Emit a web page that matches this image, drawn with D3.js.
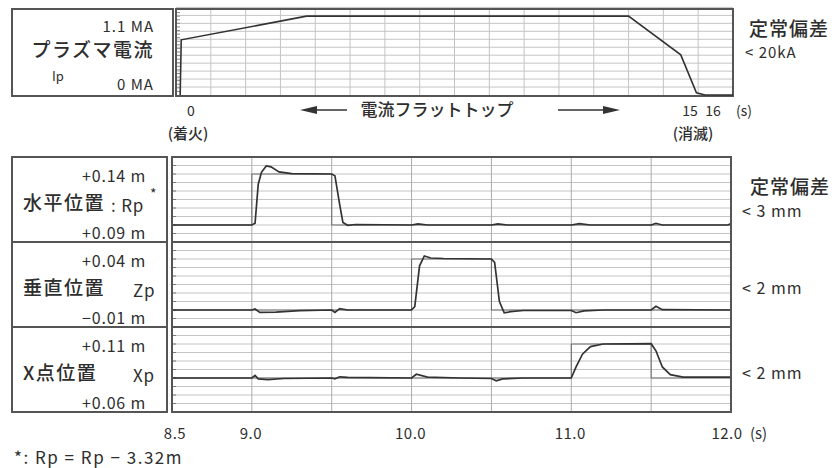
<!DOCTYPE html>
<html>
<head>
<meta charset="utf-8">
<script src="https://cdn.jsdelivr.net/npm/d3@7"></script>
<style>
    body { margin: 0; background: #fff; }
    svg text { font-family: 'Noto Sans CJK JP', 'Liberation Sans', sans-serif; fill: #2e2e2e; }
</style>
</head>
<body>
<div id="chart"></div>
<script>
// Plasma current Ip [s, MA]
var ipTrace = [ [0.12, 0], [0.15, 0.77], [3.75, 1.10], [13.0, 1.10], [14.5, 0.56], [14.95, 0.03], [15.2, 0], [16.0, 0] ];
var ipTicks = [ '0', '15', '16', '(s)' ];

// Position control traces [s, m]
var rpTrace = [ [8.5, 0.100], [9.0, 0.100], [9.02, 0.101], [9.04, 0.124], [9.06, 0.131], [9.09, 0.1347], [9.12, 0.1342],
    [9.17, 0.1312], [9.25, 0.1302], [9.5, 0.1300], [9.52, 0.129], [9.55, 0.112], [9.57, 0.1015], [9.6, 0.0998],
    [9.65, 0.1003], [10.0, 0.1000], [10.04, 0.1007], [10.1, 0.1000], [10.5, 0.1000], [10.54, 0.1006], [10.6, 0.1000],
    [11.0, 0.1000], [11.05, 0.1008], [11.12, 0.1000], [11.5, 0.1000], [11.53, 0.1010], [11.57, 0.1000], [11.98, 0.1000], [12.0, 0.1008] ];
var rpRef = [ [8.5, 0.10], [9.0, 0.10], [9.0, 0.13], [9.5, 0.13], [9.5, 0.10], [12.0, 0.10] ];

var zpTrace = [ [8.5, 0.0], [9.0, 0.0], [9.02, 0.0006], [9.05, -0.0014], [9.15, -0.0012], [9.3, -0.0004], [9.5, 0.0],
    [9.52, -0.0014], [9.55, 0.0008], [9.6, 0.0], [10.0, 0.0], [10.02, 0.002], [10.05, 0.026], [10.08, 0.0318],
    [10.12, 0.0306], [10.2, 0.0303], [10.5, 0.0300], [10.52, 0.028], [10.55, 0.005], [10.58, -0.0016], [10.62, -0.0010],
    [10.7, -0.0003], [11.0, -0.0003], [11.03, -0.0016], [11.08, -0.0005], [11.2, 0.0], [11.5, 0.0], [11.53, 0.0022],
    [11.57, 0.0002], [12.0, 0.0] ];
var zpRef = [ [8.5, 0.0], [10.0, 0.0], [10.0, 0.03], [10.5, 0.03], [10.5, 0.0], [12.0, 0.0] ];

var xpTrace = [ [8.5, 0.0800], [9.0, 0.0800], [9.02, 0.0815], [9.04, 0.0795], [9.1, 0.0790], [9.2, 0.0797], [9.5, 0.0800],
    [9.52, 0.0795], [9.55, 0.0807], [9.6, 0.0804], [10.0, 0.0800], [10.03, 0.0822], [10.1, 0.0805], [10.3, 0.0800],
    [10.5, 0.0797], [10.53, 0.0784], [10.57, 0.0795], [10.7, 0.0800], [11.0, 0.0800], [11.03, 0.0865], [11.07, 0.0940],
    [11.12, 0.0985], [11.2, 0.1000], [11.5, 0.1002], [11.53, 0.0960], [11.57, 0.0865], [11.62, 0.0820], [11.7, 0.0805],
    [12.0, 0.0805] ];
var xpRef = [ [8.5, 0.08], [11.0, 0.08], [11.0, 0.1], [11.5, 0.1], [11.5, 0.08], [12.0, 0.08] ];

var timeTicks = [ 8.5, 9.0, 10.0, 11.0, 12.0 ];
var timeTickLabels = [ '8.5', '9.0', '10.0', '11.0', '12.0' ];

var panelNames = [ '水平位置', '垂直位置', 'X点位置' ];
var panelSymbols = [ ': Rp', 'Zp', 'Xp' ];
var panelTopLabels = [ '+0.14 m', '+0.04 m', '+0.11 m' ];
var panelBottomLabels = [ '+0.09 m', '−0.01 m', '+0.06 m' ];
var panelDomains = [ [0.09, 0.14], [-0.01, 0.04], [0.06, 0.11] ];
var panelErrors = [ '< 3 mm', '< 2 mm', '< 2 mm' ];

var width = 836,
    height = 468,
    gridColor = '#c4c4c4',
    frameColor = '#555',
    lineColor = '#333',
    jpWeight = 500;

var svg = d3.select( '#chart' )
    .append( 'svg' )
    .attr( 'width', width )
    .attr( 'height', height );

function addText( g, x, y, str, size, opts ) {
    opts = opts || {};
    return g.append( 'text' )
        .attr( 'x', x ).attr( 'y', y )
        .attr( 'text-anchor', opts.anchor || 'start' )
        .attr( 'font-size', size )
        .attr( 'font-weight', opts.weight || 400 )
        .attr( 'letter-spacing', opts.spacing || 0 )
        .text( str );
}

// ---------- Top: plasma current ----------
var topBox = { left: 176, right: 733, top: 9, bottom: 96 };

var xTop = d3.scaleLinear().domain( [0, 16] ).range( [topBox.left, topBox.right] );
var yTop = d3.scaleLinear().domain( [0, 1.2] ).range( [topBox.bottom - 1, topBox.top] );

var gTop = svg.append( 'g' );

gTop.append( 'g' )
    .selectAll( 'line' )
    .data( d3.range( 1, 16 ) )
    .join( 'line' )
        .attr( 'x1', d => xTop( d ) ).attr( 'x2', d => xTop( d ) )
        .attr( 'y1', topBox.top ).attr( 'y2', topBox.bottom )
        .attr( 'stroke', gridColor ).attr( 'stroke-width', 1 );

gTop.append( 'g' )
    .selectAll( 'line' )
    .data( d3.range( 1, 13 ).map( d => d / 10.8 * 1.2 ) )
    .join( 'line' )
        .attr( 'x1', topBox.left ).attr( 'x2', topBox.right )
        .attr( 'y1', d => yTop( d ) ).attr( 'y2', d => yTop( d ) )
        .attr( 'stroke', gridColor ).attr( 'stroke-width', 1 );

// little ticks on the left edge
gTop.append( 'g' )
    .selectAll( 'line' )
    .data( d3.range( 1, 24 ).map( d => d / 20 ) )
    .join( 'line' )
        .attr( 'x1', topBox.left ).attr( 'x2', topBox.left + 4 )
        .attr( 'y1', d => yTop( d ) ).attr( 'y2', d => yTop( d ) )
        .attr( 'stroke', '#888' );

gTop.append( 'rect' )
    .attr( 'x', topBox.left ).attr( 'y', topBox.top )
    .attr( 'width', topBox.right - topBox.left ).attr( 'height', topBox.bottom - topBox.top )
    .attr( 'fill', 'none' ).attr( 'stroke', frameColor ).attr( 'stroke-width', 2 );

gTop.append( 'path' )
    .datum( ipTrace )
    .attr( 'd', d3.line().x( d => xTop( d[0] ) ).y( d => yTop( d[1] ) ) )
    .attr( 'fill', 'none' )
    .attr( 'stroke', lineColor )
    .attr( 'stroke-width', 1.6 );

// label box
gTop.append( 'rect' )
    .attr( 'x', 12 ).attr( 'y', topBox.top )
    .attr( 'width', 161 ).attr( 'height', topBox.bottom - topBox.top )
    .attr( 'fill', 'none' ).attr( 'stroke', frameColor ).attr( 'stroke-width', 2 );

addText( gTop, 154, 32, '1.1 MA', 15, { anchor: 'end', spacing: 1 } );
addText( gTop, 154, 57, 'プラズマ電流', 19, { anchor: 'end', weight: jpWeight, spacing: 1.5 } );
addText( gTop, 52, 81, 'Ip', 13 );
addText( gTop, 154, 90, '0 MA', 15, { anchor: 'end', spacing: 1 } );

// time labels under top chart
var ipTickX = [ 191, 690, 713, 744 ];
gTop.append( 'g' )
    .selectAll( 'text' )
    .data( ipTicks )
    .join( 'text' )
        .attr( 'x', ( d, i ) => ipTickX[i] )
        .attr( 'y', 116 )
        .attr( 'text-anchor', 'middle' )
        .attr( 'font-size', 14 )
        .text( d => d );
addText( gTop, 188, 139, '(着火)', 15, { anchor: 'middle', weight: jpWeight } );
addText( gTop, 693, 139, '(消滅)', 15, { anchor: 'middle', weight: jpWeight } );

// flat-top arrows
addText( gTop, 437, 116, '電流フラットトップ', 17, { anchor: 'middle', weight: jpWeight } );
gTop.append( 'line' ).attr( 'x1', 312 ).attr( 'x2', 347 ).attr( 'y1', 110 ).attr( 'y2', 110 )
    .attr( 'stroke', lineColor ).attr( 'stroke-width', 1.5 );
gTop.append( 'path' ).attr( 'd', 'M300,110 L317,106 L317,114 Z' ).attr( 'fill', lineColor );
gTop.append( 'line' ).attr( 'x1', 558 ).attr( 'x2', 608 ).attr( 'y1', 110 ).attr( 'y2', 110 )
    .attr( 'stroke', lineColor ).attr( 'stroke-width', 1.5 );
gTop.append( 'path' ).attr( 'd', 'M620,110 L603,106 L603,114 Z' ).attr( 'fill', lineColor );

addText( gTop, 749, 36, '定常偏差', 19, { weight: jpWeight, spacing: 1 } );
addText( gTop, 745, 58, '< 20kA', 15, { spacing: 1 } );

// ---------- Bottom: position panels ----------
var plotLeft = 172,
    plotRight = 731,
    panelTops = [ 157, 242, 327 ],
    panelHeight = 85;

var x = d3.scaleLinear().domain( [8.5, 12.0] ).range( [plotLeft, plotRight] );

var traces = [ rpTrace, zpTrace, xpTrace ];
var refs = [ rpRef, zpRef, xpRef ];
var symbolX = [ 111, 133, 133 ];

panelTops.forEach( function ( top, i ) {
    var g = svg.append( 'g' );
    var y = d3.scaleLinear().domain( panelDomains[i] ).range( [top + panelHeight, top] );
    var dom = panelDomains[i];
    var hLines = d3.range( 1, 10 ).map( k => dom[0] + k * 0.005 );

    g.append( 'g' )
        .selectAll( 'line' )
        .data( hLines )
        .join( 'line' )
            .attr( 'x1', plotLeft ).attr( 'x2', plotRight )
            .attr( 'y1', d => y( d ) ).attr( 'y2', d => y( d ) )
            .attr( 'stroke', gridColor ).attr( 'stroke-width', 1 );

    g.append( 'g' )
        .selectAll( 'line' )
        .data( [ 9.0, 9.5, 10.0, 10.5, 11.0, 11.5 ] )
        .join( 'line' )
            .attr( 'x1', d => x( d ) ).attr( 'x2', d => x( d ) )
            .attr( 'y1', top ).attr( 'y2', top + panelHeight )
            .attr( 'stroke', '#aaa' ).attr( 'stroke-width', 1 );

    g.append( 'g' )
        .selectAll( 'line' )
        .data( hLines )
        .join( 'line' )
            .attr( 'x1', plotLeft ).attr( 'x2', plotLeft + 4 )
            .attr( 'y1', d => y( d ) ).attr( 'y2', d => y( d ) )
            .attr( 'stroke', '#777' );

    var line = d3.line().x( d => x( d[0] ) ).y( d => y( d[1] ) );

    g.append( 'path' )
        .datum( refs[i] )
        .attr( 'd', line )
        .attr( 'fill', 'none' )
        .attr( 'stroke', '#555' )
        .attr( 'stroke-width', 0.8 );

    g.append( 'path' )
        .datum( traces[i] )
        .attr( 'd', line )
        .attr( 'fill', 'none' )
        .attr( 'stroke', lineColor )
        .attr( 'stroke-width', 1.7 );

    g.append( 'rect' )
        .attr( 'x', plotLeft ).attr( 'y', top )
        .attr( 'width', plotRight - plotLeft ).attr( 'height', panelHeight )
        .attr( 'fill', 'none' ).attr( 'stroke', frameColor ).attr( 'stroke-width', 2 );

    // label box
    g.append( 'rect' )
        .attr( 'x', 12 ).attr( 'y', top )
        .attr( 'width', 155 ).attr( 'height', panelHeight )
        .attr( 'fill', 'none' ).attr( 'stroke', frameColor ).attr( 'stroke-width', 2 );

    addText( g, 146, top + 25, panelTopLabels[i], 16, { anchor: 'end', spacing: 0.8 } );
    addText( g, 146, top + 82, panelBottomLabels[i], 16, { anchor: 'end', spacing: 0.8 } );
    addText( g, 23, top + 53, panelNames[i], 19, { weight: jpWeight, spacing: 1.5 } );
    addText( g, symbolX[i], top + 55, panelSymbols[i], 17, { spacing: 0.8 } );

    addText( g, 742, top + 52 + ( i === 0 ? 8 : 0 ), panelErrors[i], 16, { spacing: 1 } );
} );

// asterisk after Rp, and header of the lower error column
addText( svg, 150, 199, '*', 14 );
addText( svg, 750, 194, '定常偏差', 19, { weight: jpWeight, spacing: 1 } );

// time axis labels
svg.append( 'g' )
    .selectAll( 'text' )
    .data( timeTicks )
    .join( 'text' )
        .attr( 'x', d => x( d ) )
        .attr( 'y', 439 )
        .attr( 'text-anchor', 'middle' )
        .attr( 'dx', ( d, i ) => i === 0 ? 3 : ( i === 4 ? -4 : -1 ) )
        .attr( 'font-size', 15 )
        .attr( 'letter-spacing', 0.5 )
        .text( ( d, i ) => timeTickLabels[i] );
addText( svg, 750, 439, '(s)', 15 );

addText( svg, 14, 464, '*: Rp = Rp − 3.32m', 17, { spacing: 1.5 } );
</script>
</body>
</html>
